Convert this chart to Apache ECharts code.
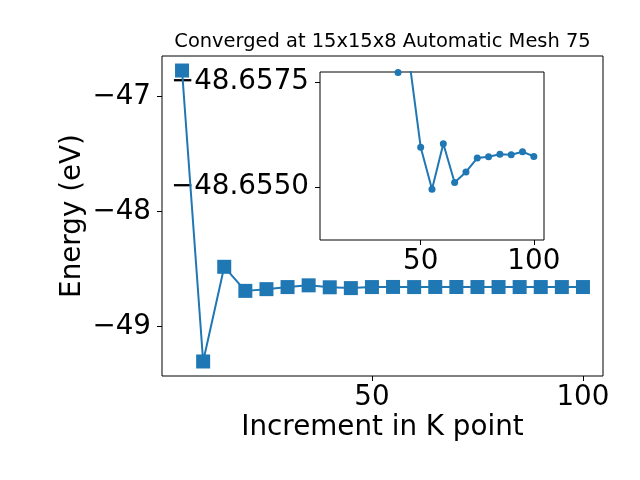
<!DOCTYPE html>
<html>
<head>
<meta charset="utf-8">
<script src="https://cdn.jsdelivr.net/npm/echarts@6/dist/echarts.min.js"></script>
<style>
html,body{margin:0;padding:0;background:#fff;}
#chart{width:640px;height:480px;}
</style>
</head>
<body>
<div id="chart"></div>
<script>
// Main plot data
var kpoints = [5, 10, 15, 20, 25, 30, 35, 40, 45, 50, 55, 60, 65, 70, 75, 80, 85, 90, 95, 100];
var energies = [-46.776, -49.302, -48.480, -48.689, -48.674, -48.656, -48.641, -48.6578, -48.665,
  -48.65595, -48.65495, -48.65603, -48.65511, -48.65536, -48.65569, -48.65572, -48.65578, -48.65577, -48.65584, -48.65573];
// Inset data
var insetK = [40, 45, 50, 55, 60, 65, 70, 75, 80, 85, 90, 95, 100];
var insetE = [-48.65773, -48.6580, -48.65595, -48.65495, -48.65603, -48.65511, -48.65536, -48.65569, -48.65572, -48.65578, -48.65577, -48.65584, -48.65573];
// Ticks
var mainXTicks = [50, 100];
var mainYTicks = [-49, -48, -47];
var insetXTicks = [50, 100];
var insetYTicks = [-48.6575, -48.6550];
var titleText = 'Converged at 15x15x8 Automatic Mesh 75';
var xName = 'Increment in K point';
var yName = 'Energy (eV)';

var FONT = 'DejaVu Sans';
var BIG = 27.78;
var BLUE = '#1f77b4';
function minus(s){ return s.replace('-', '\u2212'); }

var chart = echarts.init(document.getElementById('chart'), null, {renderer: 'canvas'});
var tickStyle = {show: true, length: 5, lineStyle: {color: '#000', width: 1}};
var labelStyle = {color: '#000', fontFamily: FONT, fontSize: BIG};

chart.setOption({
  animation: false,
  backgroundColor: '#fff',
  graphic: [{
    type: 'text', x: 382.5, y: 42,
    style: {text: titleText, fill: '#000', font: '19.45px "DejaVu Sans"', textAlign: 'center', textVerticalAlign: 'middle'}
  }],
  grid: [
    {left: 162, top: 56, width: 441, height: 320, show: true, borderColor: '#000', borderWidth: 1, backgroundColor: 'transparent'},
    {left: 320, top: 72, width: 224, height: 168, show: true, borderColor: '#000', borderWidth: 1, backgroundColor: '#fff'}
  ],
  xAxis: [
    {type: 'value', gridIndex: 0, min: 0.25, max: 104.75, splitLine: {show: false},
     axisLine: {show: false},
     axisTick: Object.assign({customValues: mainXTicks}, tickStyle),
     axisLabel: Object.assign({customValues: mainXTicks, margin: 8, formatter: function(v){return minus(String(v));}}, labelStyle),
     name: xName, nameLocation: 'middle', nameGap: 38, nameMoveOverlap: false,
     nameTextStyle: {color: '#000', fontFamily: FONT, fontSize: BIG}},
    {type: 'value', gridIndex: 1, min: 5.5, max: 104.5, splitLine: {show: false},
     axisLine: {show: false},
     axisTick: Object.assign({customValues: insetXTicks}, tickStyle),
     axisLabel: Object.assign({customValues: insetXTicks, margin: 8, formatter: function(v){return String(v);}}, labelStyle)}
  ],
  yAxis: [
    {type: 'value', gridIndex: 0, min: -49.428, max: -46.650, splitLine: {show: false},
     axisLine: {show: false},
     axisTick: Object.assign({customValues: mainYTicks}, tickStyle),
     axisLabel: Object.assign({customValues: mainYTicks, margin: 11, formatter: function(v){return minus(String(Math.round(v)));}}, labelStyle),
     name: yName, nameLocation: 'middle', nameGap: 75, nameRotate: 90, nameMoveOverlap: false,
     nameTextStyle: {color: '#000', fontFamily: FONT, fontSize: BIG}},
    {type: 'value', gridIndex: 1, min: -48.65774, max: -48.65374, inverse: true, splitLine: {show: false},
     axisLine: {show: false},
     axisTick: Object.assign({customValues: insetYTicks}, tickStyle),
     axisLabel: Object.assign({customValues: insetYTicks, margin: 11, formatter: function(v){return minus(v.toFixed(4));}}, labelStyle)}
  ],
  series: [
    {type: 'line', xAxisIndex: 0, yAxisIndex: 0, data: kpoints.map(function(k, i){return [k, energies[i]];}),
     symbol: 'rect', symbolSize: 14, showAllSymbol: true, lineStyle: {color: BLUE, width: 2}, itemStyle: {color: BLUE}, clip: true},
    {type: 'line', xAxisIndex: 1, yAxisIndex: 1, data: insetK.map(function(k, i){return [k, insetE[i]];}),
     symbol: 'circle', symbolSize: 7, showAllSymbol: true, lineStyle: {color: BLUE, width: 2}, itemStyle: {color: BLUE}, clip: true, z: 5}
  ]
});
</script>
</body>
</html>
